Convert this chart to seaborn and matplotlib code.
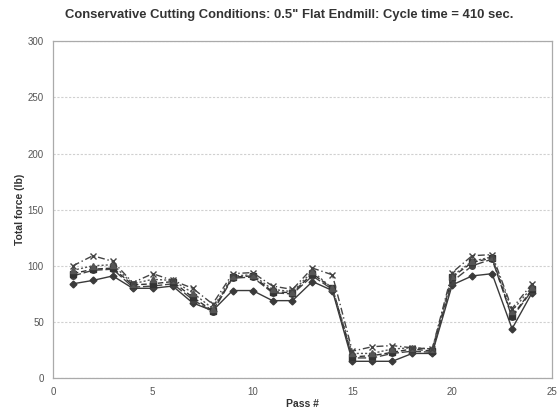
import matplotlib
matplotlib.use("Agg")
import matplotlib.pyplot as plt
import seaborn as sns
import pandas as pd

passes = list(range(1, 25))
s_diamond = [84, 87, 91, 80, 80, 82, 67, 60, 78, 78, 69, 69, 86, 78, 15, 15, 15, 22, 22, 83, 91, 93, 44, 76]
s_circle = [91, 96, 97, 81, 82, 84, 70, 59, 89, 90, 76, 75, 91, 79, 18, 18, 22, 24, 23, 86, 100, 106, 54, 78]
s_square = [93, 97, 98, 83, 84, 86, 72, 60, 90, 91, 77, 76, 93, 80, 19, 20, 23, 26, 24, 90, 103, 107, 55, 79]
s_triangle = [96, 100, 101, 84, 88, 87, 76, 62, 91, 92, 79, 77, 95, 80, 22, 22, 26, 27, 26, 91, 104, 108, 60, 81]
s_cross = [100, 109, 104, 85, 93, 87, 80, 66, 93, 94, 82, 79, 98, 92, 24, 28, 29, 27, 26, 94, 109, 110, 62, 84]

title = "Conservative Cutting Conditions: 0.5\" Flat Endmill: Cycle time = 410 sec."
xlabel = "Pass #"
ylabel = "Total force (lb)"

sns.set_theme(style="white")
plt.rcParams['font.family'] = ['Liberation Sans', 'DejaVu Sans']

fig = plt.figure(figsize=(5.57, 4.16), dpi=100)
ax = fig.add_axes([0.095, 0.091, 0.896, 0.810])

series = [
    ("diamond", s_diamond, "D", "-", "#3a3a3a", 3.5),
    ("circle", s_circle, "o", (0, (6, 2)), "#444444", 4),
    ("square", s_square, "s", (0, (4, 2)), "#333333", 4),
    ("triangle", s_triangle, "^", (0, (1.5, 1.5)), "#555555", 4),
    ("cross", s_cross, "x", (0, (5, 2, 1, 2)), "#444444", 5),
]
for name, vals, mk, ls, col, ms in series:
    df = pd.DataFrame({"x": passes, "y": vals})
    sns.lineplot(data=df, x="x", y="y", ax=ax, color=col, linestyle=ls,
                 linewidth=1.0, marker=mk, markersize=ms,
                 markeredgecolor=col, markerfacecolor=col if mk != "x" else "none",
                 markeredgewidth=1.0)

ax.set_xlim(0, 25)
ax.set_ylim(0, 300)
ax.set_xticks([0, 5, 10, 15, 20, 25])
ax.set_yticks([0, 50, 100, 150, 200, 250, 300])
ax.tick_params(labelsize=7, colors="#555555", length=3, direction="out")
ax.yaxis.grid(True, color="#d0d0d0", linestyle=(0, (2, 1.5)), linewidth=0.8)
for sp in ax.spines.values():
    sp.set_color("#aaaaaa")
    sp.set_linewidth(0.9)
ax.set_xlabel(xlabel, fontsize=7.5, fontweight="bold", color="#333333", labelpad=1)
ax.set_ylabel(ylabel, fontsize=7.5, fontweight="bold", color="#333333", labelpad=2)
fig.text(0.52, 0.965, title, ha="center", va="center", fontsize=9.4,
         fontweight="bold", color="#333333")

fig.savefig("out.png", dpi=100)
